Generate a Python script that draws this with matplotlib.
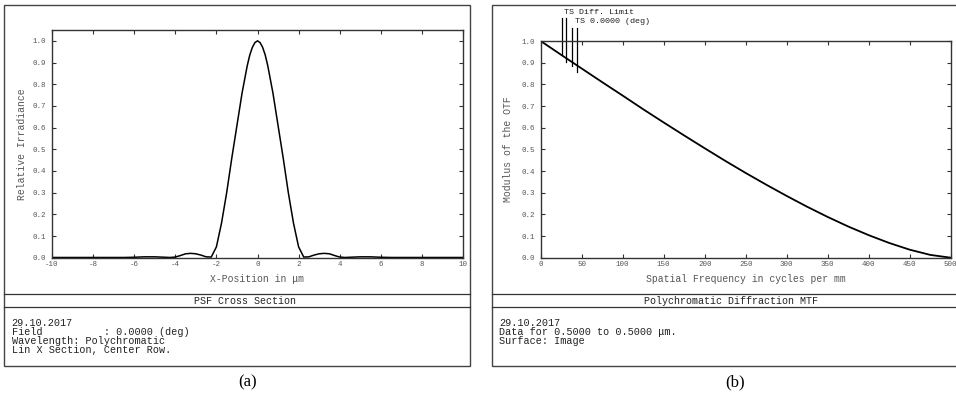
"""
PSF cross section and polychromatic diffraction MTF, two report panels.
"""
import matplotlib.pyplot as plt
from matplotlib.patches import Rectangle
from matplotlib.lines import Line2D

# PSF cross section (x in um, relative irradiance)
psf_x = [-10, -9, -8, -7, -6.5, -6, -5.5, -5, -4.5, -4.25, -4, -3.75, -3.5, -3.25,
         -3, -2.75, -2.5, -2.25, -2, -1.75, -1.5, -1.25, -1, -0.75, -0.5, -0.375,
         -0.25, -0.125, 0, 0.125, 0.25, 0.375, 0.5, 0.75, 1, 1.25, 1.5, 1.75, 2,
         2.25, 2.5, 2.75, 3, 3.25, 3.5, 3.75, 4, 4.25, 4.5, 5, 5.5, 6, 6.5, 7, 8,
         9, 10]
psf_y = [0.001, 0.001, 0.001, 0.001, 0.001, 0.002, 0.004, 0.004, 0.002, 0.001,
         0.003, 0.010, 0.018, 0.020, 0.018, 0.012, 0.004, 0.003, 0.05, 0.16,
         0.30, 0.46, 0.61, 0.76, 0.885, 0.935, 0.97, 0.992, 1.0, 0.992, 0.97,
         0.935, 0.885, 0.76, 0.61, 0.46, 0.30, 0.16, 0.05, 0.003, 0.004, 0.012,
         0.018, 0.020, 0.018, 0.010, 0.003, 0.001, 0.002, 0.004, 0.004, 0.002,
         0.001, 0.001, 0.001, 0.001, 0.001]

# MTF (cycles per mm, modulus)
mtf_f = [0, 25, 50, 75, 100, 125, 150, 175, 200, 225, 250, 275, 300, 325, 350,
         375, 400, 425, 450, 475, 500]
mtf_v = [1.0, 0.936, 0.873, 0.810, 0.748, 0.685, 0.624, 0.564, 0.505, 0.447,
         0.391, 0.337, 0.285, 0.235, 0.188, 0.144, 0.104, 0.068, 0.037, 0.013, 0.0]

# legend leader lines
lead_f = [25.6, 30.8, 37.7, 44.6]
lead_top = [1.105, 1.105, 1.059, 1.059]
lead_bot = [0.937, 0.904, 0.883, 0.859]

W, H = 956, 401
mono = 'Liberation Mono'
grey = '#555555'

fig = plt.figure(figsize=(W / 100, H / 100), dpi=100)


def fx(px):
    return px / W


def fy(py):
    return 1 - py / H


def panel(x0, x1, ax_l, ax_r, ax_t, title, title_x, footer, foot_x, tag, tag_x):
    fig.patches.append(Rectangle((fx(x0), fy(365.7)), fx(x1 - x0), fy(4.7) - fy(365.7),
                                 transform=fig.transFigure, fill=False,
                                 edgecolor='#444444', lw=1.0))
    for yy in (294.3, 306.7):
        fig.lines.append(Line2D([fx(x0), fx(x1)], [fy(yy), fy(yy)],
                                transform=fig.transFigure, color='#333333', lw=0.9))
    fig.text(fx(title_x), fy(300.7), title, ha='center', va='center',
             family=mono, fontsize=7.2, color='#222222')
    # footer, one line at a time (~9 px apart)
    for i, line in enumerate(footer):
        fig.text(fx(foot_x), fy(322.7 + 9.1 * i), line, ha='left', va='center',
                 family=mono, fontsize=7.3, color='#222222')
    fig.text(fx(tag_x), fy(382), tag, ha='center', va='center',
             family='Liberation Serif', fontsize=12)
    ax = fig.add_axes([fx(ax_l), fy(257.7), fx(ax_r - ax_l), fy(ax_t) - fy(257.7)])
    ax.tick_params(direction='in', length=3, width=0.8, top=True, right=True,
                   labelsize=5.4, labelcolor=grey, color='#333333')
    ax.tick_params(axis='x', pad=2.5)
    ax.tick_params(axis='y', pad=4)
    for s in ax.spines.values():
        s.set_color('#333333')
        s.set_linewidth(1.0)
    return ax


ax1 = panel(4.3, 470, 52, 463, 30, 'PSF Cross Section', 245,
            ['29.10.2017', 'Field          : 0.0000 (deg)',
             'Wavelength: Polychromatic', 'Lin X Section, Center Row.'],
            11.7, '(a)', 248)
ax1.plot(psf_x, psf_y, color='black', lw=1.1)
ax1.set_xlim(-10, 10)
ax1.set_ylim(0, 1.05)
ax1.set_xticks(range(-10, 11, 2))
ax1.set_yticks([i / 10 for i in range(11)])
ax1.set_yticklabels(['%.1f' % (i / 10) for i in range(11)], family=mono)
ax1.set_xticklabels([str(i) for i in range(-10, 11, 2)], family=mono)
ax1.set_xlabel('X-Position in \u03bcm', family=mono, fontsize=7, color=grey, labelpad=4)
ax1.set_ylabel('Relative Irradiance', family=mono, fontsize=7, color=grey, labelpad=4)

ax2 = panel(492, 960, 540.7, 950.7, 41, 'Polychromatic Diffraction MTF', 730.7,
            ['29.10.2017', 'Data for 0.5000 to 0.5000 \u03bcm.', 'Surface: Image'],
            499, '(b)', 734.7)
ax2.plot(mtf_f, mtf_v, color='black', lw=1.3)
ax2.set_xlim(0, 500)
ax2.set_ylim(0, 1.0)
ax2.set_xticks(range(0, 501, 50))
ax2.set_xticklabels([str(i) for i in range(0, 501, 50)], family=mono)
ax2.set_yticks([i / 10 for i in range(11)])
ax2.set_yticklabels(['%.1f' % (i / 10) for i in range(11)], family=mono)
ax2.set_xlabel('Spatial Frequency in cycles per mm', family=mono, fontsize=7,
               color=grey, labelpad=4)
ax2.set_ylabel('Modulus of the OTF', family=mono, fontsize=7, color=grey, labelpad=6)
for f, t, b in zip(lead_f, lead_top, lead_bot):
    ax2.plot([f, f], [b, t], color='black', lw=0.9, clip_on=False)
ax2.text(28.4, 1.132, 'TS Diff. Limit', family=mono, fontsize=6, color='#222222',
         va='center', ha='left', clip_on=False)
ax2.text(41.4, 1.089, 'TS 0.0000 (deg)', family=mono, fontsize=6, color='#222222',
         va='center', ha='left', clip_on=False)

fig.savefig('out.png', dpi=100)
